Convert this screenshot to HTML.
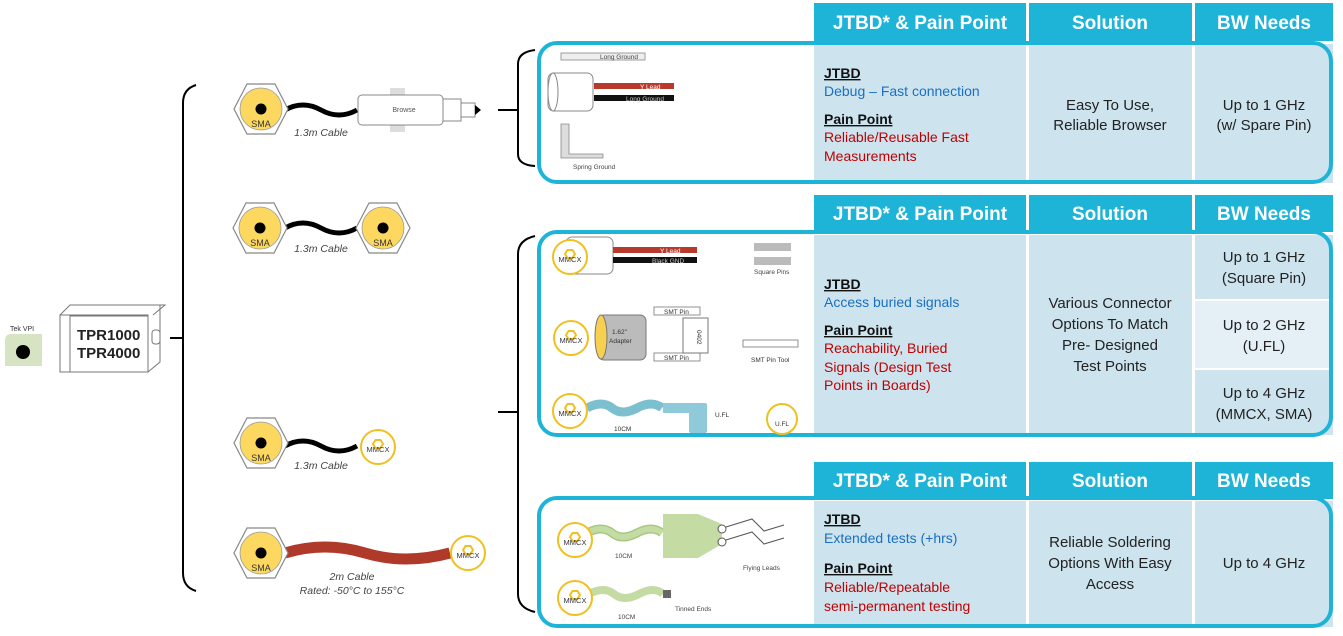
<!DOCTYPE html>
<html><head><style>
body{margin:0;background:#fff;}
svg{display:block;font-family:"Liberation Sans",Arial,sans-serif;}
</style></head><body>
<svg width="1343" height="636" viewBox="0 0 1343 636" xmlns="http://www.w3.org/2000/svg">
<defs>
<g id="sma">
<polygon points="-27,0 -14,-25 14,-25 27,0 14,25 -14,25" fill="#fff" stroke="#888" stroke-width="1.2"/>
<circle r="21" fill="#fcd860" stroke="#999" stroke-width="0.8"/>
<circle r="5.5" fill="#000"/>
<text x="0" y="18" font-size="9" text-anchor="middle" fill="#333">SMA</text>
</g>
<g id="mmcx">
<circle r="17" fill="#fff" stroke="#f0c020" stroke-width="2"/>
<polygon points="-5,-3 -2.5,-7 2.5,-7 5,-3 2.5,1 -2.5,1" fill="none" stroke="#f0c020" stroke-width="2"/>
<text x="0" y="5" font-size="7.5" text-anchor="middle" fill="#333">MMCX</text>
</g>
</defs>

<!-- left side -->
<path d="M5,340 q0,-5 5,-6 h32 v32 h-37z" fill="#d6e4c4"/>
<text x="10" y="331" font-size="7" fill="#333">Tek VPI</text>
<circle cx="23" cy="352" r="7" fill="#000"/>
<path d="M60,315 v57 h88 v-57z M60,315 l10,-10 h95 l-12,10 M148,372 l12,-10 v-57" fill="#fff" stroke="#777" stroke-width="1"/>
<rect x="70" y="316" width="78" height="56" fill="#fff" stroke="#777"/>
<rect x="152" y="330" width="8" height="14" rx="3" fill="#fff" stroke="#777"/>
<text x="77" y="340" font-size="15" font-weight="bold" fill="#222">TPR1000</text>
<text x="77" y="358" font-size="15" font-weight="bold" fill="#222">TPR4000</text>
<path d="M170,338 h13" stroke="#000" stroke-width="2"/>
<path d="M196,85 q-13,4 -13,18 v470 q0,14 13,18" fill="none" stroke="#000" stroke-width="2"/>

<!-- row 1 -->
<path d="M285,110 q18,-10 36,0 t36,0" fill="none" stroke="#000" stroke-width="5"/>
<use href="#sma" x="261" y="109"/>
<rect x="390" y="88" width="15" height="44" fill="#ddd"/>
<rect x="358" y="95" width="85" height="30" rx="4" fill="#fff" stroke="#888"/>
<rect x="443" y="99" width="18" height="22" fill="#fff" stroke="#888"/>
<rect x="461" y="103" width="14" height="14" fill="#fff" stroke="#888"/>
<path d="M475,105 l6,5 l-6,5z" fill="#000"/>
<text x="404" y="112" font-size="7" fill="#555" text-anchor="middle">Browse</text>
<text x="321" y="136" font-size="10.5" font-style="italic" fill="#444" text-anchor="middle">1.3m Cable</text>
<path d="M498,110 h20 M535,50 q-17,2 -17,14 v90 q0,11 17,12" fill="none" stroke="#000" stroke-width="2"/>

<!-- row 2 -->
<path d="M285,228 q18,-10 36,0 t36,0" fill="none" stroke="#000" stroke-width="5"/>
<use href="#sma" x="260" y="228"/>
<use href="#sma" x="383" y="228"/>
<text x="321" y="252" font-size="10.5" font-style="italic" fill="#444" text-anchor="middle">1.3m Cable</text>

<!-- row 3 -->
<path d="M285,446 q18,-10 36,0 t36,0" fill="none" stroke="#000" stroke-width="5"/>
<use href="#sma" x="261" y="443"/>
<use href="#mmcx" x="378" y="447"/>
<text x="321" y="469" font-size="10.5" font-style="italic" fill="#444" text-anchor="middle">1.3m Cable</text>

<!-- row 4 -->
<path d="M285,553 q40,-12 80,0 t85,0" fill="none" stroke="#b03a2a" stroke-width="11"/>
<use href="#sma" x="261" y="553"/>
<use href="#mmcx" x="468" y="553"/>
<text x="352" y="580" font-size="10.5" font-style="italic" fill="#444" text-anchor="middle">2m Cable</text>
<text x="352" y="594" font-size="10.5" font-style="italic" fill="#444" text-anchor="middle">Rated: -50°C to 155°C</text>

<path d="M498,412 h20 M535,236 q-17,4 -17,18 v340 q0,14 17,18" fill="none" stroke="#000" stroke-width="2"/>

<!-- tables headers -->
<g fill="#1eb4d8">
<rect x="814" y="3" width="212" height="38"/><rect x="1029" y="3" width="163" height="38"/><rect x="1195" y="3" width="138" height="38"/>
<rect x="814" y="195" width="212" height="37"/><rect x="1029" y="195" width="163" height="37"/><rect x="1195" y="195" width="138" height="37"/>
<rect x="814" y="462" width="212" height="37"/><rect x="1029" y="462" width="163" height="37"/><rect x="1195" y="462" width="138" height="37"/>
</g>
<g fill="#fff" font-size="19" font-weight="bold" text-anchor="middle">
<text x="920" y="29">JTBD* &amp; Pain Point</text><text x="1110" y="29">Solution</text><text x="1264" y="29">BW Needs</text>
<text x="920" y="220">JTBD* &amp; Pain Point</text><text x="1110" y="220">Solution</text><text x="1264" y="220">BW Needs</text>
<text x="920" y="487">JTBD* &amp; Pain Point</text><text x="1110" y="487">Solution</text><text x="1264" y="487">BW Needs</text>
</g>
<!-- bodies -->
<g fill="#cde4ef">
<rect x="814" y="44" width="212" height="139"/><rect x="1029" y="44" width="163" height="139"/><rect x="1195" y="44" width="138" height="139"/>
<rect x="814" y="235" width="212" height="200"/><rect x="1029" y="235" width="163" height="200"/><rect x="1195" y="235" width="138" height="64"/>
<rect x="1195" y="370" width="138" height="65"/>
<rect x="814" y="501" width="212" height="126"/><rect x="1029" y="501" width="163" height="126"/><rect x="1195" y="501" width="138" height="126"/>
</g>
<rect x="1195" y="301" width="138" height="67" fill="#e4f0f6"/>
<g fill="none" stroke="#1eb4d8" stroke-width="4">
<rect x="539" y="43" width="792" height="139" rx="18"/>
<rect x="539" y="232" width="792" height="203" rx="18"/>
<rect x="539" y="498" width="792" height="128" rx="18"/>
</g>

<!-- table text -->
<g font-size="14">
<text x="824" y="78" font-weight="bold" text-decoration="underline" fill="#111">JTBD</text>
<text x="824" y="96" fill="#1a6fc0">Debug – Fast connection</text>
<text x="824" y="124" font-weight="bold" text-decoration="underline" fill="#111">Pain Point</text>
<text x="824" y="142" fill="#c00000">Reliable/Reusable  Fast</text>
<text x="824" y="161" fill="#c00000">Measurements</text>
<g text-anchor="middle" font-size="15" fill="#222">
<text x="1110" y="110">Easy To Use,</text><text x="1110" y="130">Reliable Browser</text>
<text x="1264" y="110">Up to 1 GHz</text><text x="1264" y="130">(w/ Spare Pin)</text>
</g>
<text x="824" y="289" font-weight="bold" text-decoration="underline" fill="#111">JTBD</text>
<text x="824" y="307" fill="#1a6fc0">Access buried signals</text>
<text x="824" y="335" font-weight="bold" text-decoration="underline" fill="#111">Pain Point</text>
<text x="824" y="353" fill="#c00000">Reachability,  Buried</text>
<text x="824" y="372" fill="#c00000">Signals (Design Test</text>
<text x="824" y="390" fill="#c00000">Points in Boards)</text>
<g text-anchor="middle" font-size="15" fill="#222">
<text x="1110" y="308">Various Connector</text><text x="1110" y="329">Options To Match</text><text x="1110" y="350">Pre- Designed</text><text x="1110" y="371">Test Points</text>
<text x="1264" y="262">Up to 1 GHz</text><text x="1264" y="283">(Square Pin)</text>
<text x="1264" y="330">Up to 2 GHz</text><text x="1264" y="351">(U.FL)</text>
<text x="1264" y="398">Up to 4 GHz</text><text x="1264" y="419">(MMCX, SMA)</text>
</g>
<text x="824" y="524" font-weight="bold" text-decoration="underline" fill="#111">JTBD</text>
<text x="824" y="543" fill="#1a6fc0">Extended tests (+hrs)</text>
<text x="824" y="573" font-weight="bold" text-decoration="underline" fill="#111">Pain Point</text>
<text x="824" y="592" fill="#c00000">Reliable/Repeatable</text>
<text x="824" y="611" fill="#c00000">semi-permanent testing</text>
<g text-anchor="middle" font-size="15" fill="#222">
<text x="1110" y="547">Reliable Soldering</text><text x="1110" y="568">Options With Easy</text><text x="1110" y="589">Access</text>
<text x="1264" y="568">Up to 4 GHz</text>
</g>
</g>

<!-- panel 1 illustrations -->
<rect x="561" y="53" width="84" height="7" fill="#eee" stroke="#888" stroke-width="0.8"/>
<text x="600" y="59" font-size="6.5" fill="#444">Long Ground</text>
<rect x="548" y="73" width="45" height="38" rx="6" fill="#fff" stroke="#888"/>
<ellipse cx="553" cy="92" rx="5" ry="19" fill="#fff" stroke="#888"/>
<path d="M594,86 h80" stroke="#b83a2c" stroke-width="6"/>
<path d="M594,98 h80" stroke="#111" stroke-width="6"/>
<text x="640" y="89" font-size="6.5" fill="#fff">Y Lead</text>
<text x="626" y="101" font-size="6.5" fill="#ccc">Long Ground</text>
<path d="M561,124 h8 v30 h34 v4 h-42z" fill="#ddd" stroke="#888" stroke-width="0.8"/>
<text x="573" y="169" font-size="6.5" fill="#444">Spring Ground</text>

<!-- panel 2 illustrations -->
<rect x="566" y="237" width="47" height="37" rx="6" fill="#fff" stroke="#888"/>
<path d="M613,250 h84" stroke="#b83a2c" stroke-width="6"/>
<path d="M613,260 h84" stroke="#111" stroke-width="6"/>
<text x="660" y="253" font-size="6.5" fill="#fff">Y Lead</text>
<text x="652" y="263" font-size="6.5" fill="#ccc">Black GND</text>
<use href="#mmcx" x="570" y="257"/>
<rect x="754" y="243" width="37" height="8" fill="#bbb"/>
<rect x="754" y="257" width="37" height="8" fill="#bbb"/>
<text x="754" y="274" font-size="6.5" fill="#444">Square Pins</text>
<use href="#mmcx" x="571" y="338"/>
<rect x="598" y="315" width="48" height="45" rx="6" fill="#bbb" stroke="#777"/>
<ellipse cx="601" cy="337" rx="6" ry="22" fill="#f8d050" stroke="#777"/>
<text x="612" y="334" font-size="6.5" fill="#333">1.62"</text>
<text x="609" y="343" font-size="6.5" fill="#333">Adapter</text>
<rect x="654" y="307" width="46" height="8" fill="#fff" stroke="#777" stroke-width="0.8"/>
<rect x="654" y="353" width="46" height="8" fill="#fff" stroke="#777" stroke-width="0.8"/>
<text x="664" y="314" font-size="6.5" fill="#333">SMT Pin</text>
<text x="664" y="360" font-size="6.5" fill="#333">SMT Pin</text>
<rect x="683" y="318" width="25" height="35" fill="#fff" stroke="#777"/>
<text x="697" y="330" font-size="6.5" fill="#333" transform="rotate(90 697 330)">0402</text>
<rect x="743" y="340" width="55" height="7" fill="#fff" stroke="#777" stroke-width="0.8"/>
<text x="751" y="362" font-size="6.5" fill="#333">SMT Pin Tool</text>
<path d="M587,408 q15,-8 25,0 t25,0 t25,0" fill="none" stroke="#7cc0d0" stroke-width="9"/>
<rect x="663" y="403" width="37" height="10" fill="#8fcadb"/>
<rect x="689" y="403" width="18" height="30" rx="2" fill="#8fcadb"/>
<text x="715" y="417" font-size="6.5" fill="#333">U.FL</text>
<text x="614" y="431" font-size="6.5" fill="#333">10CM</text>
<use href="#mmcx" x="570" y="411"/>
<circle cx="782" cy="419" r="15" fill="#fff" stroke="#f0c020" stroke-width="2"/>
<text x="782" y="426" font-size="6.5" text-anchor="middle" fill="#333">U.FL</text>

<!-- panel 3 illustrations -->
<path d="M587,533 q15,-8 25,0 t25,0 t25,0" fill="none" stroke="#a8c880" stroke-width="9"/>
<path d="M587,533 q15,-8 25,0 t25,0 t25,0" fill="none" stroke="#c4dca4" stroke-width="6"/>
<path d="M663,514 h35 l24,10 v20 l-24,14 h-35z" fill="#c4dca4"/>
<circle cx="722" cy="529" r="4" fill="#fff" stroke="#555"/>
<circle cx="722" cy="542" r="4" fill="#fff" stroke="#555"/>
<path d="M726,527 l26,-8 l12,12 l20,-6 M726,540 l26,-8 l12,12 l20,-6" fill="none" stroke="#555"/>
<text x="743" y="570" font-size="6.5" fill="#444">Flying Leads</text>
<text x="615" y="558" font-size="6.5" fill="#444">10CM</text>
<use href="#mmcx" x="575" y="540"/>
<path d="M589,594 q15,-8 25,0 t25,0 t24,0" fill="none" stroke="#c4dca4" stroke-width="8"/>
<rect x="663" y="590" width="8" height="8" fill="#666"/>
<text x="675" y="611" font-size="6.5" fill="#444">Tinned Ends</text>
<text x="618" y="619" font-size="6.5" fill="#444">10CM</text>
<use href="#mmcx" x="575" y="598"/>
</svg>
</body></html>
